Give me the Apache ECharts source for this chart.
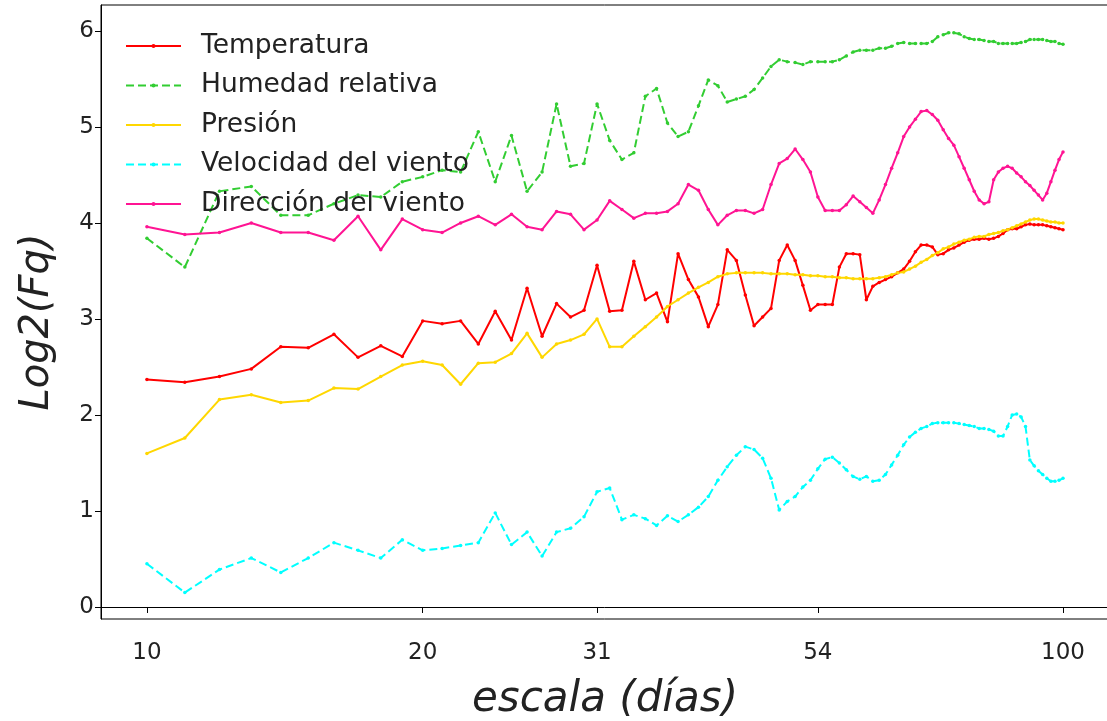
<!DOCTYPE html>
<html>
<head>
<meta charset="utf-8">
<script src="https://cdn.jsdelivr.net/npm/echarts@6/dist/echarts.min.js"></script>
<style>
  html, body { margin: 0; padding: 0; background: #fff; }
  #chart { width: 1107px; height: 721px; }
</style>
</head>
<body>
<div id="chart"></div>
<script>
// Scale in days (log axis)
const days = [10,11,12,13,14,15,16,17,18,19,20,21,22,23,24,25,26,27,28,29,30,
  31,32,33,34,35,36,37,38,39,40,41,42,43,44,45,46,47,48,49,50,51,52,53,54,55,
  56,57,58,59,60,61,62,63,64,65,66,67,68,69,70,71,72,73,74,75,76,77,78,79,80,
  81,82,83,84,85,86,87,88,89,90,91,92,93,94,95,96,97,98,99,100];

const temperatura = [2.37,2.34,2.40,2.48,2.71,2.70,2.84,2.60,2.72,2.61,2.98,
  2.95,2.98,2.74,3.08,2.78,3.32,2.82,3.16,3.02,3.09,3.56,3.08,3.09,3.60,3.20,
  3.27,2.97,3.68,3.41,3.23,2.92,3.15,3.72,3.61,3.25,2.93,3.02,3.11,3.61,3.77,
  3.61,3.35,3.09,3.15,3.15,3.15,3.54,3.68,3.68,3.67,3.20,3.34,3.38,3.41,3.44,
  3.48,3.52,3.60,3.70,3.77,3.77,3.75,3.67,3.68,3.72,3.74,3.77,3.80,3.82,3.83,
  3.83,3.84,3.83,3.84,3.86,3.89,3.93,3.94,3.94,3.96,3.98,3.99,3.98,3.98,3.98,
  3.97,3.96,3.95,3.94,3.93];

const humedad = [3.84,3.54,4.33,4.38,4.08,4.08,4.20,4.29,4.27,4.43,4.48,4.55,
  4.53,4.95,4.43,4.91,4.33,4.53,5.24,4.59,4.62,5.24,4.86,4.66,4.73,5.32,5.40,
  5.04,4.90,4.95,5.22,5.49,5.43,5.26,5.29,5.32,5.39,5.51,5.63,5.70,5.68,5.67,
  5.65,5.68,5.68,5.68,5.68,5.70,5.74,5.78,5.80,5.80,5.80,5.82,5.82,5.84,5.87,
  5.88,5.87,5.87,5.87,5.87,5.89,5.94,5.96,5.98,5.98,5.97,5.94,5.92,5.91,5.91,
  5.90,5.89,5.89,5.87,5.87,5.87,5.87,5.87,5.88,5.89,5.91,5.91,5.91,5.91,5.90,
  5.89,5.89,5.87,5.86];

const presion = [1.60,1.76,2.16,2.21,2.13,2.15,2.28,2.27,2.40,2.52,2.56,2.52,
  2.32,2.54,2.55,2.64,2.85,2.60,2.74,2.78,2.84,3.00,2.71,2.71,2.82,2.92,3.02,
  3.13,3.20,3.27,3.33,3.38,3.44,3.47,3.48,3.48,3.48,3.48,3.47,3.47,3.47,3.46,
  3.46,3.45,3.45,3.44,3.44,3.43,3.43,3.42,3.42,3.42,3.42,3.43,3.44,3.46,3.48,
  3.49,3.52,3.55,3.59,3.62,3.66,3.69,3.73,3.75,3.78,3.80,3.82,3.83,3.85,3.86,
  3.86,3.88,3.89,3.90,3.92,3.93,3.95,3.97,3.99,4.01,4.03,4.04,4.04,4.03,4.02,
  4.01,4.01,4.00,4.00];

const velocidad = [0.45,0.15,0.39,0.51,0.36,0.51,0.67,0.59,0.51,0.70,0.59,0.61,
  0.64,0.67,0.98,0.65,0.78,0.53,0.78,0.82,0.94,1.20,1.24,0.91,0.96,0.92,0.85,
  0.95,0.89,0.96,1.04,1.15,1.32,1.46,1.58,1.67,1.64,1.55,1.34,1.01,1.10,1.15,
  1.25,1.32,1.44,1.54,1.56,1.50,1.43,1.36,1.33,1.36,1.31,1.32,1.38,1.48,1.58,
  1.69,1.77,1.82,1.86,1.88,1.91,1.92,1.92,1.92,1.92,1.91,1.90,1.89,1.88,1.86,
  1.86,1.85,1.83,1.78,1.78,1.88,2.00,2.01,1.98,1.88,1.53,1.47,1.42,1.38,1.34,
  1.31,1.31,1.32,1.34];

const direccion = [3.96,3.88,3.90,4.00,3.90,3.90,3.82,4.07,3.72,4.04,3.93,3.90,
  4.00,4.07,3.98,4.09,3.96,3.93,4.12,4.09,3.93,4.03,4.23,4.14,4.05,4.10,4.10,
  4.12,4.20,4.40,4.34,4.14,3.98,4.08,4.13,4.13,4.10,4.14,4.40,4.62,4.67,4.77,
  4.66,4.53,4.27,4.13,4.13,4.13,4.19,4.28,4.22,4.16,4.10,4.24,4.40,4.57,4.73,
  4.90,5.00,5.08,5.16,5.17,5.13,5.07,4.97,4.88,4.81,4.69,4.57,4.45,4.33,4.24,
  4.20,4.22,4.45,4.53,4.57,4.59,4.57,4.52,4.48,4.43,4.39,4.34,4.29,4.24,4.31,
  4.43,4.55,4.66,4.74];

const xTicks = [10, 20, 31, 54, 100];
const yTicks = [0, 1, 2, 3, 4, 5, 6];

const FONT = "'DejaVu Sans', sans-serif";

function pairs(vals) {
  return days.map((d, i) => [d, vals[i]]);
}

function lineSeries(name, vals, color, dashed) {
  return {
    name: name,
    type: 'line',
    data: pairs(vals),
    symbol: 'circle',
    symbolSize: 3.5,
    showSymbol: true,
    itemStyle: { color: color },
    lineStyle: { color: color, width: 2, type: dashed ? [8, 4] : 'solid' },
    emphasis: { disabled: true },
    z: 2
  };
}

const chart = echarts.init(document.getElementById('chart'), null, { renderer: 'canvas' });

chart.setOption({
  animation: false,
  backgroundColor: '#fff',
  grid: {
    left: 101, right: -2, top: 5, bottom: 102,
    containLabel: false,
    outerBoundsMode: 'none',
    show: true, borderColor: '#000', borderWidth: 1, backgroundColor: 'transparent'
  },
  legend: {
    orient: 'vertical',
    left: 125, top: 32,
    padding: 0,
    itemWidth: 55, itemHeight: 5, itemGap: 11.5,
    textStyle: { fontFamily: FONT, fontSize: 26.5, color: '#222', lineHeight: 28, padding: [0, 0, 0, 15] },
    data: ['Temperatura', 'Humedad relativa', 'Presión', 'Velocidad del viento', 'Dirección del viento']
  },
  xAxis: {
    type: 'log',
    logBase: 10,
    min: 8.91,
    max: 112.25,
    name: 'escala (días)',
    nameLocation: 'middle',
    nameGap: 60,
    nameTextStyle: { fontFamily: FONT, fontSize: 42, fontStyle: 'italic', color: '#222' },
    axisLine: { show: true, lineStyle: { color: '#000', width: 1 } },
    axisTick: { show: true, length: 6, lineStyle: { color: '#000' }, customValues: xTicks },
    axisLabel: {
      customValues: xTicks,
      fontFamily: FONT, fontSize: 23, color: '#222', margin: 23,
      formatter: v => String(Math.round(v))
    },
    splitLine: { show: false },
    minorTick: { show: false },
    minorSplitLine: { show: false }
  },
  yAxis: {
    type: 'value',
    min: -0.125,
    max: 6.27,
    name: 'Log2(Fq)',
    nameLocation: 'middle',
    nameRotate: 90,
    nameGap: 43,
    nameTextStyle: {
      fontFamily: FONT, fontSize: 40, fontStyle: 'italic', color: '#222',
      padding: [0, 20, 0, 0]
    },
    axisLine: { show: true, lineStyle: { color: '#000', width: 1 } },
    axisTick: { show: true, length: 6, lineStyle: { color: '#000' }, customValues: yTicks },
    axisLabel: {
      customValues: yTicks,
      fontFamily: FONT, fontSize: 23, color: '#222', margin: 7
    },
    splitLine: { show: false }
  },
  series: [
    lineSeries('Temperatura', temperatura, '#ff0000', false),
    lineSeries('Humedad relativa', humedad, '#32cd32', true),
    lineSeries('Presión', presion, '#ffd700', false),
    lineSeries('Velocidad del viento', velocidad, '#00ffff', true),
    lineSeries('Dirección del viento', direccion, '#ff1493', false)
  ]
});
</script>
</body>
</html>
